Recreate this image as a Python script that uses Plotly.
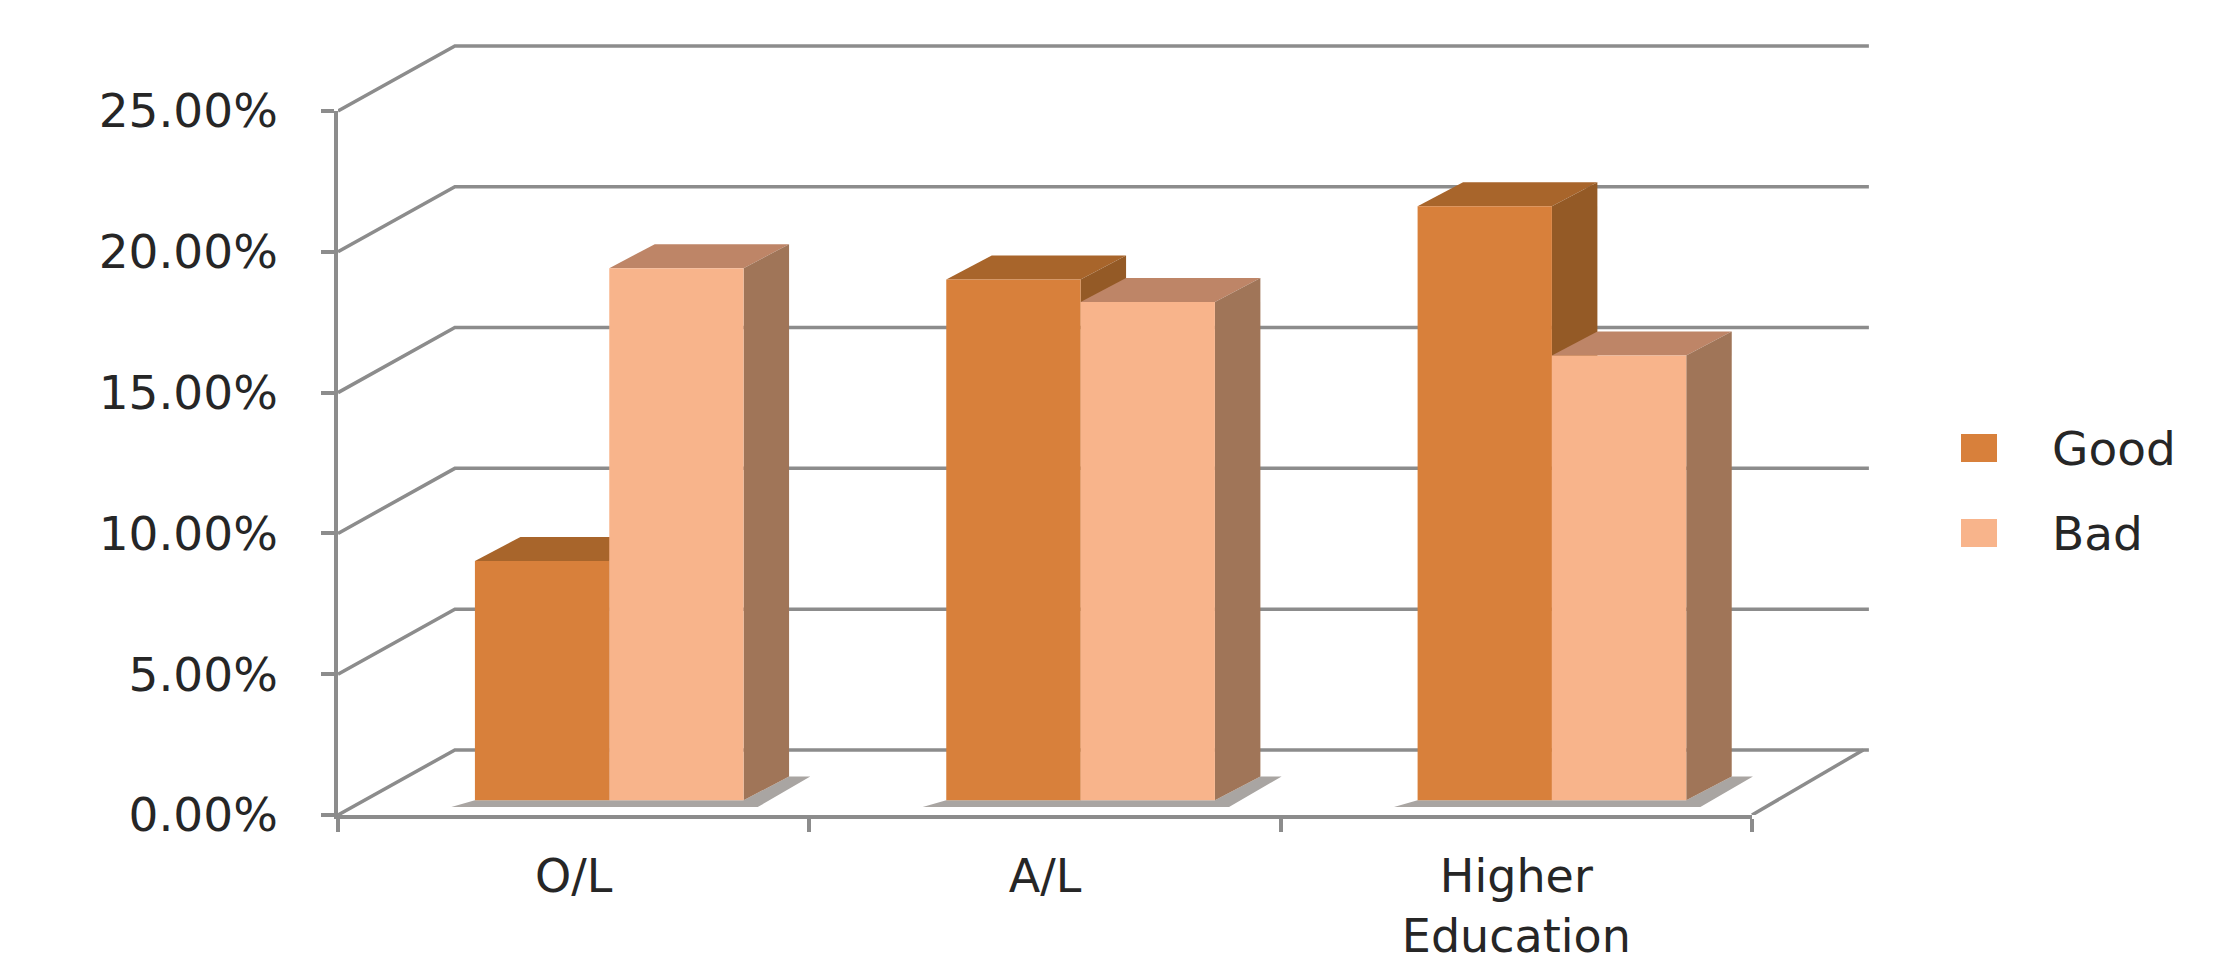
import plotly.graph_objects as go

# Chart data
categories = ["O/L", "A/L", "Higher<br>Education"]
good_values = [0.085, 0.185, 0.211]
bad_values = [0.189, 0.177, 0.158]
y_ticks = [0.0, 0.05, 0.10, 0.15, 0.20, 0.25]

# Colours per series: front, top and side faces
GOOD = dict(front="#D8803B", top="#A8652B", side="#945A26", name="Good")
BAD = dict(front="#F8B48B", top="#BE8567", side="#A07558", name="Bad")
AXIS = "#8C8C8C"
TEXT = "#262626"
FONT = "DejaVu Sans"
FONT_SIZE = 47
CATEGORY_FONT_SIZE = 46
LINE_W = 3.5

# Value-axis plot box and the larger box that also holds the back wall, in pixels
W, H = 2230, 970
L, R, T, B = 338, 1752, 111, 815
OUTER_R, OUTER_T = 1900, 20

# Wall depth and bar geometry, in axis units
WALL_DX, WALL_DY = 0.248, 0.0231
BAR_SHIFT, BAR_LIFT = 0.0755, 0.0052
BAR_W = 0.285
BAR_DX, BAR_DY = 0.0965, 0.0085

n = len(categories)
centres = [i + 0.5 for i in range(n)]
x_per_px = n / (R - L)
y_per_px = 0.25 / (B - T)
outer_x_max = (OUTER_R - L) * x_per_px
outer_y_max = (B - OUTER_T) * y_per_px

fig = go.Figure()


def poly(xs, ys, colour):
    fig.add_trace(go.Scatter(
        x=xs + xs[:1], y=ys + ys[:1], mode="lines", fill="toself",
        fillcolor=colour, line=dict(width=0), hoverinfo="skip",
        showlegend=False, cliponaxis=False, xaxis="x", yaxis="y"))


def wire(xs, ys):
    fig.add_trace(go.Scatter(
        x=xs, y=ys, mode="lines", line=dict(color=AXIS, width=LINE_W),
        hoverinfo="skip", showlegend=False, cliponaxis=False,
        xaxis="x", yaxis="y"))


# Back wall gridlines with their slanted returns to the value axis
for v in y_ticks:
    wire([0, WALL_DX, n + WALL_DX], [v, v + WALL_DY, v + WALL_DY])
# Right edge of the floor
wire([n, n + WALL_DX - 0.012], [0, WALL_DY])

# Contact shadows on the floor
for c in centres:
    xl = c + BAR_SHIFT - BAR_W
    xr = c + BAR_SHIFT + BAR_W
    poly([xl - 0.05, xr + 0.03, xr + BAR_DX + 0.045, xr + BAR_DX, xr, xl],
         [BAR_LIFT - 0.0024, BAR_LIFT - 0.0024, BAR_LIFT + BAR_DY,
          BAR_LIFT + BAR_DY, BAR_LIFT, BAR_LIFT], "#A9A5A2")


def extrude(style, values, left_edge):
    """Top and side faces of a series; the bar trace supplies the front."""
    for c, v in zip(centres, values):
        x0 = c + BAR_SHIFT + left_edge
        x1 = x0 + BAR_W
        top = BAR_LIFT + v
        poly([x0, x1, x1 + BAR_DX, x0 + BAR_DX],
             [top, top, top + BAR_DY, top + BAR_DY], style["top"])
        poly([x1, x1 + BAR_DX, x1 + BAR_DX, x1],
             [BAR_LIFT, BAR_LIFT + BAR_DY, top + BAR_DY, top], style["side"])


extrude(GOOD, good_values, -BAR_W)
extrude(BAD, bad_values, 0)

# Front faces are real bars on the value-axis subplot, above the faces drawn so far
for style, values, offset in ((GOOD, good_values, -BAR_W), (BAD, bad_values, 0)):
    fig.add_trace(go.Bar(
        x=[c + BAR_SHIFT for c in centres], y=values,
        base=[BAR_LIFT] * n, width=BAR_W, offset=offset,
        name=style["name"], marker=dict(color=style["front"], line=dict(width=0)),
        cliponaxis=False, showlegend=False, xaxis="x2", yaxis="y2"))


def px_x(p):
    return (p - L) / (OUTER_R - L)


def px_y(p):
    return (B - p) / (B - OUTER_T)


# Legend swatches and labels
for style, cy in ((GOOD, 448), (BAD, 533)):
    fig.add_shape(type="rect", xref="paper", yref="paper", layer="above",
                  x0=px_x(1961), x1=px_x(1997), y0=px_y(cy - 14), y1=px_y(cy + 14),
                  fillcolor=style["front"], line=dict(width=0))
    fig.add_annotation(xref="paper", yref="paper", x=px_x(2050), y=px_y(cy),
                       xanchor="left", yanchor="middle", text=style["name"],
                       showarrow=False, font=dict(family=FONT, size=FONT_SIZE, color=TEXT))

fig.update_layout(
    width=W, height=H, autosize=False,
    margin=dict(l=L, r=W - OUTER_R, t=OUTER_T, b=H - B, pad=0),
    paper_bgcolor="white", plot_bgcolor="rgba(0,0,0,0)",
    barmode="overlay", showlegend=False,
    font=dict(family=FONT, size=FONT_SIZE, color=TEXT),
    xaxis=dict(range=[0, outer_x_max], domain=[0, 1], visible=False, fixedrange=True,
               automargin=False),
    yaxis=dict(range=[0, outer_y_max], domain=[0, 1], visible=False, fixedrange=True,
               automargin=False),
    xaxis2=dict(
        anchor="y2", domain=[0, (R - L) / (OUTER_R - L)], range=[0, n],
        showgrid=False, zeroline=False, automargin=False,
        showline=True, linecolor=AXIS, linewidth=LINE_W,
        tickmode="array", tickvals=centres, ticktext=categories, ticks="",
        ticklabelstandoff=18, tickfont=dict(family=FONT, size=CATEGORY_FONT_SIZE, color=TEXT),
        minor=dict(tickmode="array", tickvals=list(range(n + 1)), ticks="outside",
                   ticklen=13, tickwidth=LINE_W, tickcolor=AXIS, showgrid=False)),
    yaxis2=dict(
        anchor="x2", domain=[0, (B - T) / (B - OUTER_T)], range=[0, 0.25],
        showgrid=False, zeroline=False, automargin=False,
        showline=True, linecolor=AXIS, linewidth=LINE_W,
        tickmode="array", tickvals=y_ticks, tickformat=".2%", ticks="outside",
        ticklen=13, tickwidth=LINE_W, tickcolor=AXIS, ticklabelstandoff=34,
        tickfont=dict(family=FONT, size=FONT_SIZE, color=TEXT)),
)

fig.write_html("out.html")
